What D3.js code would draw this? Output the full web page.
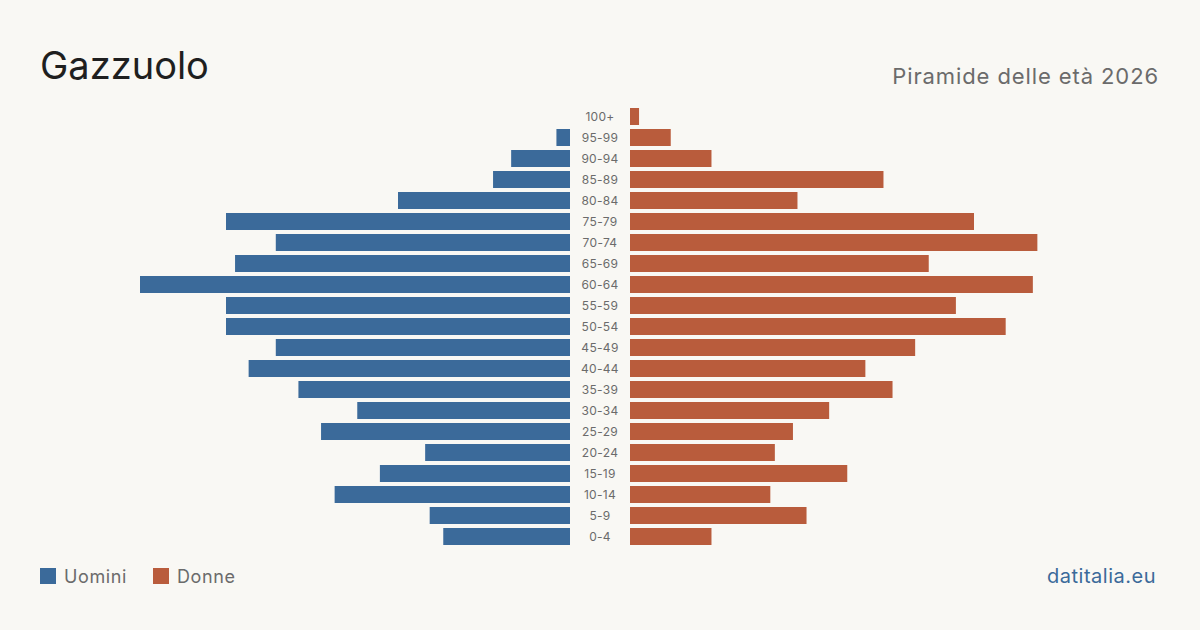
<!DOCTYPE html>
<html>
<head>
<meta charset="utf-8">
<script src="https://cdn.jsdelivr.net/npm/d3@7"></script>
<style>
  body { margin: 0; background: #f9f8f4; }
  svg { display: block; font-family: Inter, "Noto Sans", sans-serif; }
</style>
</head>
<body>
<script>
const width = 1200,
  height = 630;

// age classes, top to bottom
const ageGroups = ["100+", "95-99", "90-94", "85-89", "80-84", "75-79", "70-74",
  "65-69", "60-64", "55-59", "50-54", "45-49", "40-44", "35-39", "30-34",
  "25-29", "20-24", "15-19", "10-14", "5-9", "0-4"];
const men = [0, 3, 13, 17, 38, 76, 65, 74, 95, 76, 76, 65, 71, 60, 47, 55, 32, 42, 52, 31, 28];
const women = [2, 9, 18, 56, 37, 76, 90, 66, 89, 72, 83, 63, 52, 58, 44, 36, 32, 48, 31, 39, 18];

const blue = "#3b6a9a",
  red = "#b95c3c";

const svg = d3
  .select("body")
  .append("svg")
  .attr("width", width)
  .attr("height", height);

svg.append("rect").attr("width", width).attr("height", height).attr("fill", "#f9f8f4");

// one band per age class
const y = d3.scaleBand().domain(ageGroups).range([106, 547]).paddingInner(4 / 21).paddingOuter(2 / 21);

// men grow to the left of 570, women to the right of 630
const xLeft = d3.scaleLinear().domain([0, 95]).range([570, 140]);
const xRight = d3.scaleLinear().domain([0, 95]).range([630, 1060]);

svg
  .selectAll("rect.men")
  .data(ageGroups)
  .join("rect")
  .attr("class", "men")
  .attr("x", (d, i) => xLeft(men[i]))
  .attr("y", (d) => y(d))
  .attr("width", (d, i) => xLeft(0) - xLeft(men[i]))
  .attr("height", y.bandwidth())
  .attr("fill", blue);

svg
  .selectAll("rect.women")
  .data(ageGroups)
  .join("rect")
  .attr("class", "women")
  .attr("x", xRight(0))
  .attr("y", (d) => y(d))
  .attr("width", (d, i) => xRight(women[i]) - xRight(0))
  .attr("height", y.bandwidth())
  .attr("fill", red);

// age labels in the middle gap
svg
  .selectAll("text.age")
  .data(ageGroups)
  .join("text")
  .attr("class", "age")
  .attr("x", 600)
  .attr("y", (d) => y(d) + y.bandwidth() / 2)
  .attr("dy", "0.35em")
  .attr("text-anchor", "middle")
  .attr("font-size", 12)
  .attr("letter-spacing", 0.3)
  .attr("fill", "#6b6b6b")
  .text((d) => d);

// titles
svg.append("text")
  .attr("x", 40).attr("y", 79)
  .attr("font-size", 38)
  .attr("fill", "#1f1f1f")
  .text("Gazzuolo");

svg.append("text")
  .attr("x", 1159).attr("y", 84)
  .attr("text-anchor", "end")
  .attr("font-size", 22)
  .attr("letter-spacing", 0.9)
  .attr("fill", "#6b6b6b")
  .text("Piramide delle età 2026");

// legend
const legend = [{ label: "Uomini", color: blue, x: 40 }, { label: "Donne", color: red, x: 153 }];
const lg = svg.selectAll("g.legend").data(legend).join("g").attr("class", "legend");
lg.append("rect")
  .attr("x", (d) => d.x).attr("y", 568)
  .attr("width", 16).attr("height", 16)
  .attr("fill", (d) => d.color);
lg.append("text")
  .attr("x", (d) => d.x + 24).attr("y", 583)
  .attr("font-size", 18)
  .attr("letter-spacing", 0.6)
  .attr("fill", "#6b6b6b")
  .text((d) => d.label);

svg.append("text")
  .attr("x", 1156).attr("y", 583)
  .attr("text-anchor", "end")
  .attr("font-size", 20)
  .attr("letter-spacing", 0.5)
  .attr("fill", blue)
  .text("datitalia.eu");
</script>
</body>
</html>
